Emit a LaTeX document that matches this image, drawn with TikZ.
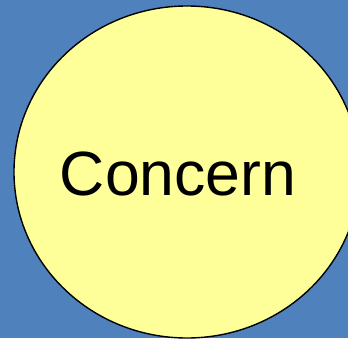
\documentclass[tikz,border=0pt]{standalone}
\usepackage{fontspec}
\setmainfont{Liberation Sans}
\usetikzlibrary{calc}
\definecolor{bgblue}{HTML}{4F81BD}
\definecolor{pale}{HTML}{FFFF99}

\begin{document}
\begin{tikzpicture}[x=1pt,y=1pt]
  \useasboundingbox (0,0) rectangle (348,338);
  \fill[bgblue] (0,0) rectangle (348,338);
  \begin{scope}
    \clip (0,0) rectangle (348,338);
    \draw[fill=pale,draw=black,line width=1.4pt]
      (187,166) ellipse [x radius=173, y radius=166];
  \end{scope}
  \node[anchor=base,inner sep=0pt,font=\fontsize{62.5}{62.5}\selectfont]
    (concern) at (178,143) {Concern};
\end{tikzpicture}
\end{document}
